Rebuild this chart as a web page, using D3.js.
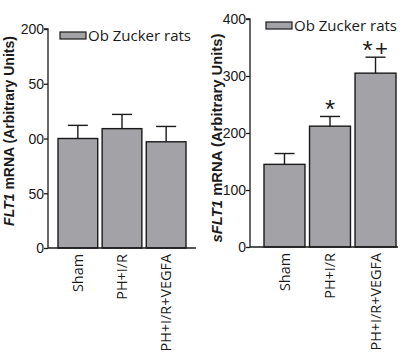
<!DOCTYPE html>
<html>
<head>
<meta charset="utf-8">
<script src="https://cdn.jsdelivr.net/npm/d3@7"></script>
<style>
  html, body { margin: 0; padding: 0; background: #fff; }
  svg { display: block; font-family: "Liberation Sans", Arial, sans-serif; }
</style>
</head>
<body>
<svg id="chart" width="404" height="353"></svg>
<script>
/* ---- data ------------------------------------------------------- */
const groups      = ["Sham", "PH+I/R", "PH+I/R+VEGFA"];
const legendLabel = "Ob Zucker rats";

const flt1Mean  = [100, 109, 97];
const flt1Err   = [12, 13, 14];
const flt1Ticks = [0, 50, 100, 150, 200];
const flt1TickLabels = ["0", "50", "00", "50", "200"];   // as printed (clipped) in the figure

const sflt1Mean  = [145, 212, 305];
const sflt1Err   = [19, 17, 28];
const sflt1Ticks = [0, 100, 200, 300, 400];
const sflt1Sig   = ["", "*", "*+"];

const barFill = "#a3a3a7";
const ink     = "#1a1a1a";
const humanist = "'Open Sans', 'Noto Sans', sans-serif";

const svg = d3.select("#chart");

/* ---- one panel -------------------------------------------------- */
function panel({ axisX, axisEnd, y0, y1, yMax, bandRange, mean, err, ticks, tickLabels,
                 sig, labelX, labelY, labelSize, labelParts, legendX, legendY }) {
  const g = svg.append("g");

  const x = d3.scaleBand(groups, bandRange).paddingInner(0.1).paddingOuter(0);
  const y = d3.scaleLinear([0, yMax], [y0, y1]);

  // bars
  g.selectAll("rect.bar")
    .data(groups)
    .join("rect")
      .attr("class", "bar")
      .attr("x", d => x(d))
      .attr("width", x.bandwidth())
      .attr("y", (d, i) => y(mean[i]))
      .attr("height", (d, i) => y(0) - y(mean[i]))
      .attr("fill", barFill)
      .attr("stroke", ink)
      .attr("stroke-width", 1.4);

  // error bars (upper only) + significance marks
  const cap = 20;
  groups.forEach((d, i) => {
    const cx = x(d) + x.bandwidth() / 2;
    const top = y(mean[i] + err[i]);
    g.append("line")
      .attr("x1", cx).attr("x2", cx)
      .attr("y1", y(mean[i])).attr("y2", top)
      .attr("stroke", ink).attr("stroke-width", 1.4);
    g.append("line")
      .attr("x1", cx - cap / 2).attr("x2", cx + cap / 2)
      .attr("y1", top).attr("y2", top)
      .attr("stroke", ink).attr("stroke-width", 1.4);
    if (sig && sig[i]) {
      const chars = sig[i].split("");
      chars.forEach((c, k) => {
        const off = chars.length === 1 ? 0 : (k === 0 ? -8 : 6);
        g.append("text")
          .attr("x", cx + off)
          .attr("y", c === "*" ? top + 2 : top - 1.5)
          .attr("text-anchor", "middle")
          .attr("font-size", c === "*" ? 26 : 22)
          .attr("fill", ink)
          .text(c);
      });
    }
  });

  // y axis
  const yAxis = d3.axisLeft(y)
    .tickValues(ticks)
    .tickSize(4)
    .tickFormat((d, i) => tickLabels ? tickLabels[i] : d);
  const ya = g.append("g")
    .attr("transform", `translate(${axisX},0)`)
    .call(yAxis);
  ya.select(".domain").attr("d", `M-4,${y(yMax)}H0V${y0}`);
  ya.selectAll("path, line").attr("stroke", ink).attr("stroke-width", 1.3);
  ya.selectAll("text").attr("font-size", 14).attr("fill", ink).attr("x", -4).attr("dy", "0.35em");
  ya.attr("font-family", null);

  // x axis
  const xa = g.append("g")
    .attr("transform", `translate(0,${y0})`)
    .call(d3.axisBottom(x).tickSize(0));
  xa.select(".domain").attr("d", `M${axisX},0H${axisEnd}`)
    .attr("stroke", ink).attr("stroke-width", 1.3);
  xa.selectAll("text")
    .attr("font-size", 14.4)
    .attr("font-family", humanist)
    .attr("fill", ink)
    .attr("text-anchor", "end")
    .attr("transform", "rotate(-90)")
    .attr("x", -6)
    .attr("y", 0)
    .attr("dy", "0.35em");
  xa.attr("font-family", null);

  // y label
  const lab = g.append("text")
    .attr("transform", `translate(${labelX},${labelY}) rotate(-90)`)
    .attr("text-anchor", "middle")
    .attr("font-size", labelSize)
    .attr("font-weight", "bold")
    .attr("fill", ink);
  labelParts.forEach(p => {
    lab.append("tspan").attr("font-style", p.italic ? "italic" : null).text(p.t);
  });

  // legend
  g.append("rect")
    .attr("x", legendX).attr("y", legendY)
    .attr("width", 26).attr("height", 7)
    .attr("fill", barFill).attr("stroke", ink).attr("stroke-width", 1.2);
  g.append("text")
    .attr("x", legendX + 28).attr("y", legendY + 9)
    .attr("font-size", 15)
    .attr("font-family", humanist)
    .attr("fill", ink)
    .text(legendLabel);
}

panel({
  axisX: 48, axisEnd: 196, y0: 248, y1: 29, yMax: 200,
  bandRange: [58, 186],
  mean: flt1Mean, err: flt1Err,
  ticks: flt1Ticks, tickLabels: flt1TickLabels,
  sig: null,
  labelX: 14, labelY: 131, labelSize: 14,
  labelParts: [{ t: "FLT1", italic: true }, { t: " mRNA (Arbitrary Units)" }],
  legendX: 60, legendY: 32
});

panel({
  axisX: 250, axisEnd: 398, y0: 247, y1: 19, yMax: 400,
  bandRange: [264, 396],
  mean: sflt1Mean, err: sflt1Err,
  ticks: sflt1Ticks, tickLabels: null,
  sig: sflt1Sig,
  labelX: 222, labelY: 138, labelSize: 14.8,
  labelParts: [{ t: "sFLT1", italic: true }, { t: " mRNA (Arbitrary Units)" }],
  legendX: 266, legendY: 22
});
</script>
</body>
</html>
